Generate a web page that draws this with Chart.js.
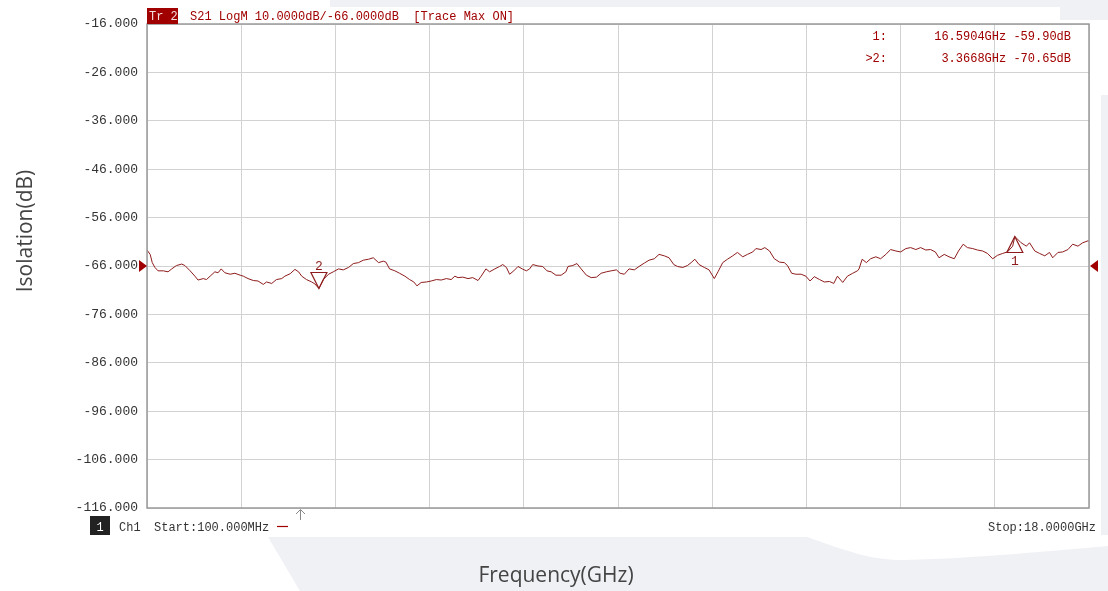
<!DOCTYPE html>
<html>
<head>
<meta charset="utf-8">
<script src="https://cdn.jsdelivr.net/npm/chart.js@4.4.1/dist/chart.umd.min.js"></script>
<style>
  html, body { margin: 0; padding: 0; background: #fff; }
  #wrap { width: 1108px; height: 591px; position: relative; }
</style>
</head>
<body>
<div id="wrap"><canvas id="vna" width="1108" height="591"></canvas></div>
<script>
// trace S21 (GHz / dB)
const freqGHz = [
  0.10, 0.16, 0.20, 0.25, 0.31, 0.41, 0.50, 0.57, 0.66, 0.76, 0.82, 0.92, 1.01, 1.07, 1.17, 1.23, 1.30, 1.39, 1.45, 1.51,
  1.58, 1.68, 1.77, 1.87, 1.93, 2.02, 2.12, 2.21, 2.31, 2.37, 2.47, 2.56, 2.66, 2.72, 2.82, 2.91, 2.98, 3.04, 3.13, 3.23,
  3.29, 3.367, 3.45, 3.55, 3.64, 3.74, 3.83, 3.93, 4.02, 4.12, 4.21, 4.31, 4.40, 4.50, 4.59, 4.64, 4.71, 4.81, 4.90, 5.00,
  5.09, 5.17, 5.23, 5.31, 5.41, 5.50, 5.60, 5.69, 5.79, 5.88, 5.95, 6.01, 6.10, 6.20, 6.29, 6.39, 6.45, 6.54, 6.61, 6.71,
  6.80, 6.86, 6.93, 6.99, 7.07, 7.15, 7.23, 7.31, 7.37, 7.43, 7.53, 7.62, 7.70, 7.78, 7.87, 7.97, 8.06, 8.10, 8.19, 8.27,
  8.35, 8.45, 8.54, 8.64, 8.73, 8.83, 8.92, 9.02, 9.09, 9.17, 9.26, 9.36, 9.45, 9.55, 9.64, 9.74, 9.83, 9.93, 10.02, 10.11,
  10.18, 10.28, 10.37, 10.44, 10.51, 10.59, 10.69, 10.78, 10.88, 10.95, 11.04, 11.13, 11.23, 11.32, 11.42, 11.51, 11.61, 11.67, 11.77, 11.84,
  11.93, 12.02, 12.12, 12.21, 12.27, 12.35, 12.43, 12.53, 12.62, 12.70, 12.78, 12.88, 12.97, 13.07, 13.15, 13.22, 13.32, 13.41, 13.51, 13.60,
  13.63, 13.69, 13.77, 13.85, 13.95, 14.04, 14.14, 14.23, 14.33, 14.42, 14.52, 14.61, 14.71, 14.80, 14.90, 14.99, 15.08, 15.15, 15.25, 15.34,
  15.44, 15.52, 15.61, 15.69, 15.79, 15.88, 15.98, 16.07, 16.17, 16.26, 16.36, 16.45, 16.55, 16.5904, 16.71, 16.81, 16.87, 16.97, 17.06, 17.16,
  17.25, 17.31, 17.41, 17.50, 17.60, 17.69, 17.79, 17.88, 17.98, 18.00
];
const isolationDb = [
  -62.7, -63.6, -65.3, -66.3, -67.0, -67.0, -67.2, -66.6, -65.9, -65.6, -65.9, -67.0, -68.1, -68.9, -68.6, -68.8, -68.1, -67.2, -67.4, -66.6,
  -67.4, -67.7, -67.5, -67.9, -68.1, -68.6, -69.0, -69.1, -69.8, -69.3, -69.6, -68.8, -68.6, -68.1, -67.6, -66.7, -67.2, -68.1, -68.8, -69.3,
  -69.7, -70.65, -68.8, -67.7, -67.2, -66.6, -66.8, -66.3, -65.5, -65.3, -64.8, -64.6, -64.3, -65.3, -65.0, -65.2, -66.6, -67.0, -67.5, -68.1,
  -68.8, -69.3, -70.1, -69.4, -69.3, -69.1, -68.8, -68.9, -68.6, -68.8, -68.1, -68.4, -68.3, -68.6, -68.4, -69.0, -68.1, -66.6, -67.2, -66.6,
  -66.1, -65.7, -66.3, -67.7, -67.0, -66.1, -66.6, -67.0, -66.6, -65.7, -66.0, -66.1, -67.0, -67.2, -67.9, -67.9, -67.2, -66.1, -65.9, -65.5,
  -66.6, -67.9, -68.4, -68.3, -67.5, -67.2, -67.0, -66.8, -67.5, -67.7, -66.6, -66.8, -66.1, -65.4, -64.8, -64.5, -63.6, -63.9, -64.3, -65.7,
  -66.1, -66.3, -65.9, -65.3, -64.6, -65.7, -66.3, -66.8, -68.6, -67.2, -65.3, -64.6, -63.9, -63.2, -64.1, -63.6, -63.1, -62.4, -62.6, -62.2,
  -62.9, -64.5, -65.2, -65.3, -65.9, -67.5, -67.7, -67.7, -68.1, -69.1, -68.2, -68.8, -69.3, -69.2, -69.6, -68.1, -69.4, -68.1, -67.5, -67.0,
  -66.6, -64.6, -65.3, -64.5, -64.1, -64.5, -63.6, -62.6, -62.9, -63.1, -62.4, -62.2, -62.6, -62.2, -62.7, -62.6, -63.1, -64.3, -63.6, -64.1,
  -64.5, -62.9, -61.5, -62.2, -62.4, -62.7, -62.9, -63.4, -64.5, -63.8, -63.4, -63.1, -61.9, -59.9, -61.2, -61.9, -61.2, -62.9, -63.4, -63.9,
  -63.2, -64.3, -63.2, -63.1, -62.6, -61.5, -61.9, -61.2, -60.8, -60.9
];

const yTicks = [-16, -26, -36, -46, -56, -66, -76, -86, -96, -106, -116];
const xTicks = [0.1, 1.89, 3.68, 5.47, 7.26, 9.05, 10.84, 12.63, 14.42, 16.21, 18.0];
const refLevel = -66;

const markerIds = ['1', '2'];
const markerFreq = [16.5904, 3.3668];
const markerDb = [-59.90, -70.65];
const markerFreqText = ['16.5904GHz', '3.3668GHz'];

const monoFont = '"Liberation Mono", monospace';
const sansFont = '"Open Sans", "Noto Sans", sans-serif';
const traceColor = '#8e1c1c';
const vnaRed = '#a00000';

const overlay = {
  id: 'overlay',
  beforeDraw(chart) {
    const c = chart.ctx;
    c.save();
    c.fillStyle = '#fff';
    c.fillRect(0, 0, chart.width, chart.height);
    // slide background bits round the screenshot
    c.fillStyle = '#f0f1f5';
    c.fillRect(330, 0, 778, 7);
    c.fillRect(1060, 7, 48, 13);
    c.fillRect(1101, 95, 7, 440);
    c.beginPath();
    c.moveTo(268, 537);
    c.lineTo(807, 537);
    c.bezierCurveTo(850, 552, 870, 560, 905, 560);
    c.bezierCurveTo(980, 558, 1050, 551, 1108, 546);
    c.lineTo(1108, 591);
    c.lineTo(300, 591);
    c.closePath();
    c.fill();
    c.restore();
  },
  afterDraw(chart) {
    const c = chart.ctx;
    const a = chart.chartArea;
    const xs = chart.scales.x, ys = chart.scales.y;
    c.save();
    // frame
    c.strokeStyle = '#9a9a9a';
    c.lineWidth = 1.5;
    c.strokeRect(a.left, a.top, a.right - a.left, a.bottom - a.top);

    // header
    c.fillStyle = vnaRed;
    c.fillRect(a.left, 8, 31, 16);
    c.font = '12px ' + monoFont;
    c.textBaseline = 'alphabetic';
    c.textAlign = 'left';
    c.fillStyle = '#f4dede';
    c.fillText('Tr 2', a.left + 2, 20);
    c.fillStyle = vnaRed;
    c.fillText('S21 LogM 10.0000dB/-66.0000dB  [Trace Max ON]', 190, 20);

    // marker readout
    c.textAlign = 'right';
    c.fillText('1:', 887, 40);
    c.fillText('>2:', 887, 62);
    c.fillText(markerFreqText[0] + ' -' + Math.abs(markerDb[0]).toFixed(2) + 'dB', 1071, 40);
    c.fillText(markerFreqText[1] + ' -' + Math.abs(markerDb[1]).toFixed(2) + 'dB', 1071, 62);

    // reference level arrows
    const ry = ys.getPixelForValue(refLevel);
    c.fillStyle = vnaRed;
    c.beginPath();
    c.moveTo(a.left - 8, ry - 6); c.lineTo(a.left, ry); c.lineTo(a.left - 8, ry + 6); c.closePath(); c.fill();
    c.beginPath();
    c.moveTo(a.right + 9, ry - 6); c.lineTo(a.right + 1, ry); c.lineTo(a.right + 9, ry + 6); c.closePath(); c.fill();

    // markers
    c.strokeStyle = traceColor;
    c.lineWidth = 1.2;
    c.fillStyle = traceColor;
    c.textAlign = 'center';
    c.font = '13px ' + monoFont;
    markerIds.forEach((id, i) => {
      const px = xs.getPixelForValue(markerFreq[i]);
      const py = ys.getPixelForValue(markerDb[i]);
      c.beginPath();
      if (id === '2') {
        c.moveTo(px, py); c.lineTo(px - 8, py - 16); c.lineTo(px + 8, py - 16); c.closePath();
        c.stroke();
        c.fillText(id, px, py - 19);
      } else {
        c.moveTo(px, py); c.lineTo(px - 8, py + 16); c.lineTo(px + 8, py + 16); c.closePath();
        c.stroke();
        c.fillText(id, px, py + 29);
      }
    });

    // footer
    c.font = '12px ' + monoFont;
    c.fillStyle = '#222';
    c.fillRect(90, 516, 20, 19);
    c.fillStyle = '#fff';
    c.textAlign = 'center';
    c.fillText('1', 100, 531);
    c.fillStyle = '#333';
    c.textAlign = 'left';
    c.fillText('Ch1', 119, 531);
    c.fillText('Start:100.000MHz', 154, 531);
    c.textAlign = 'right';
    c.fillText('Stop:18.0000GHz', 1096, 531);
    c.strokeStyle = vnaRed;
    c.lineWidth = 1.2;
    c.beginPath(); c.moveTo(277, 526.5); c.lineTo(288, 526.5); c.stroke();
    c.strokeStyle = '#888';
    c.lineWidth = 1;
    c.beginPath();
    c.moveTo(300.5, 510); c.lineTo(300.5, 520);
    c.moveTo(296, 514); c.lineTo(300.5, 509.5); c.lineTo(305, 514);
    c.stroke();

    // axis titles
    c.fillStyle = '#444';
    c.font = '21px ' + sansFont;
    c.textAlign = 'center';
    c.textBaseline = 'middle';
    c.fillText('Frequency(GHz)', 556, 576);
    c.translate(26, 231);
    c.rotate(-Math.PI / 2);
    c.fillText('Isolation(dB)', 0, 0);
    c.restore();
  }
};

new Chart(document.getElementById('vna'), {
  type: 'line',
  data: {
    datasets: [{
      label: 'S21',
      data: freqGHz.map((f, i) => ({ x: f, y: isolationDb[i] })),
      borderColor: traceColor,
      borderWidth: 1,
      pointRadius: 0,
      tension: 0,
      fill: false
    }]
  },
  options: {
    responsive: false,
    animation: false,
    devicePixelRatio: 1,
    layout: { padding: { left: 0, right: 19, top: 24, bottom: 83 } },
    plugins: { legend: { display: false }, tooltip: { enabled: false } },
    scales: {
      x: {
        type: 'linear',
        min: 0.1,
        max: 18,
        afterBuildTicks: s => { s.ticks = xTicks.map(v => ({ value: v })); },
        afterFit: s => { s.height = 0; },
        ticks: { display: false },
        grid: { color: '#d2d2d2', lineWidth: 1, drawTicks: false },
        border: { display: false }
      },
      y: {
        min: -116,
        max: -16,
        afterBuildTicks: s => { s.ticks = yTicks.map(v => ({ value: v })); },
        afterFit: s => { s.width = 147; },
        ticks: {
          padding: 9,
          color: '#333',
          font: { family: monoFont, size: 13 },
          callback: v => v.toFixed(3)
        },
        grid: { color: '#d2d2d2', lineWidth: 1, drawTicks: false },
        border: { display: false }
      }
    }
  },
  plugins: [overlay]
});
</script>
</body>
</html>
